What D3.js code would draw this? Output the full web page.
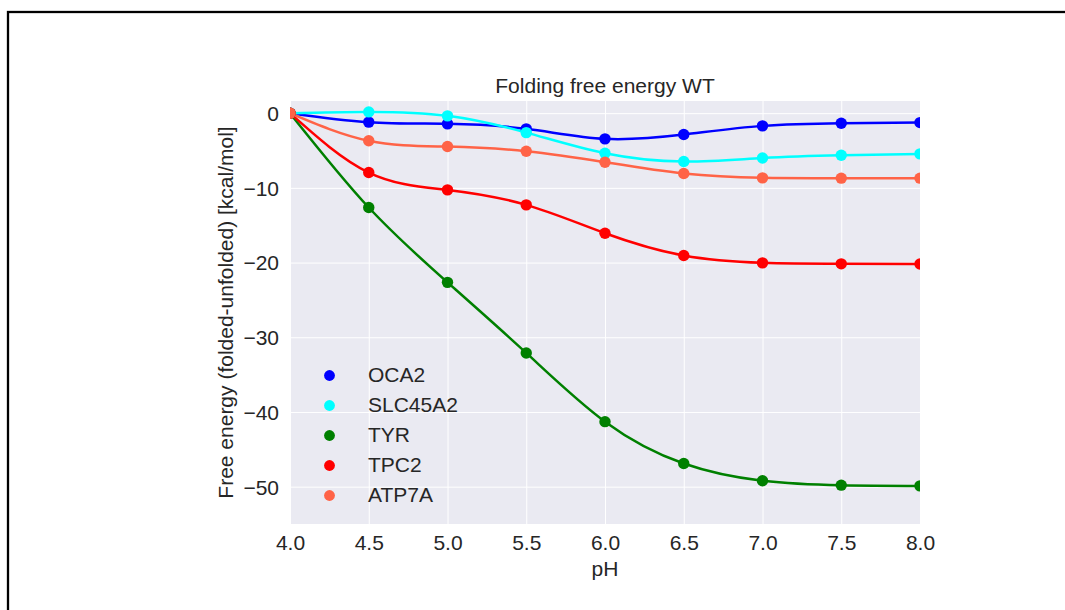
<!DOCTYPE html>
<html><head><meta charset="utf-8">
<script src="https://cdn.jsdelivr.net/npm/d3@7"></script>
<style>
body{margin:0;background:#fff;}
svg{display:block;font-family:"Liberation Sans",Arial,sans-serif;}
</style></head>
<body>
<script>
const pH = [4.0, 4.5, 5.0, 5.5, 6.0, 6.5, 7.0, 7.5, 8.0];
const seriesNames = ["OCA2", "SLC45A2", "TYR", "TPC2", "ATP7A"];
const seriesColors = ["#0000ff", "#00ffff", "#008000", "#ff0000", "#ff6347"];
const OCA2    = [0, -1.2, -1.43, -2.1, -3.44, -2.86, -1.7, -1.34, -1.26];
const SLC45A2 = [0, 0.17, -0.36, -2.6, -5.36, -6.47, -6.0, -5.63, -5.45];
const TYR     = [0, -12.63, -22.65, -32.1, -41.3, -46.9, -49.2, -49.8, -49.9];
const TPC2    = [0, -7.95, -10.27, -12.28, -16.07, -19.06, -20.04, -20.17, -20.2];
const ATP7A   = [0, -3.7, -4.47, -5.09, -6.56, -8.08, -8.66, -8.7, -8.7];
const seriesValues = [OCA2, SLC45A2, TYR, TPC2, ATP7A];
const xTicks = [4.0, 4.5, 5.0, 5.5, 6.0, 6.5, 7.0, 7.5, 8.0];
const yTicks = [0, -10, -20, -30, -40, -50];
const titleText = "Folding free energy WT";
const xLabel = "pH";
const yLabel = "Free energy (folded-unfolded) [kcal/mol]";

const W = 1065, H = 610;
const L = 290, R = 920, T = 101, B = 524;
const FS = 21, TXT = "#262626";

const svg = d3.select("body").append("svg").attr("width", W).attr("height", H);
svg.append("rect").attr("x", 8).attr("y", 12).attr("width", 1100).attr("height", 700)
  .attr("fill", "none").attr("stroke", "#000").attr("stroke-width", 2.3);

const x = d3.scaleLinear().domain([4, 8]).range([L, R]);
const y = d3.scaleLinear().domain([-55, 1.63]).range([B, T]);

svg.append("rect").attr("x", L).attr("y", T).attr("width", R - L).attr("height", B - T).attr("fill", "#eaeaf2");

const gx = svg.append("g").attr("transform", `translate(0,${B})`)
  .call(d3.axisBottom(x).tickValues(xTicks).tickFormat(d3.format(".1f")).tickSize(-(B - T)).tickPadding(10));
gx.select(".domain").remove();
gx.selectAll("line").attr("stroke", "#fff").attr("stroke-width", 1);
gx.selectAll("text").attr("font-size", FS).attr("fill", TXT).attr("dy", null).attr("y", 26);

const gy = svg.append("g").attr("transform", `translate(${L},0)`)
  .call(d3.axisLeft(y).tickValues(yTicks).tickFormat(d => d < 0 ? "\u2212" + Math.abs(d) : d).tickSize(-(R - L)).tickPadding(11));
gy.select(".domain").remove();
gy.selectAll("line").attr("stroke", "#fff").attr("stroke-width", 1);
gy.selectAll("text").attr("font-size", FS).attr("fill", TXT).attr("dy", "0.35em");

svg.append("clipPath").attr("id", "clip").append("rect")
  .attr("x", L).attr("y", T).attr("width", R - L).attr("height", B - T);
const plot = svg.append("g").attr("clip-path", "url(#clip)");

const line = d3.line().x((d, i) => x(pH[i])).y(d => y(d)).curve(d3.curveNatural);
seriesValues.forEach((vals, k) => {
  plot.append("path").attr("d", line(vals)).attr("fill", "none")
    .attr("stroke", seriesColors[k]).attr("stroke-width", 2.5);
});
seriesValues.forEach((vals, k) => {
  plot.selectAll(null).data(vals).enter().append("circle")
    .attr("cx", (d, i) => x(pH[i])).attr("cy", d => y(d)).attr("r", 5.7)
    .attr("fill", seriesColors[k]);
});

// legend
const lg = svg.append("g");
seriesNames.forEach((n, k) => {
  const yy = 375.5 + k * 30;
  lg.append("circle").attr("cx", 329.5).attr("cy", yy).attr("r", 5.4).attr("fill", seriesColors[k]);
  lg.append("text").attr("x", 368).attr("y", yy).attr("dy", "0.33em").attr("font-size", FS).attr("fill", TXT).text(n);
});

svg.append("text").attr("x", (L + R) / 2).attr("y", 93).attr("text-anchor", "middle")
  .attr("font-size", FS).attr("fill", TXT).text(titleText);
svg.append("text").attr("x", (L + R) / 2).attr("y", 576).attr("text-anchor", "middle")
  .attr("font-size", FS).attr("fill", TXT).text(xLabel);
svg.append("text").attr("transform", `translate(233,${(T + B) / 2}) rotate(-90)`).attr("text-anchor", "middle")
  .attr("font-size", FS).attr("fill", TXT).text(yLabel);
</script>
</body></html>
